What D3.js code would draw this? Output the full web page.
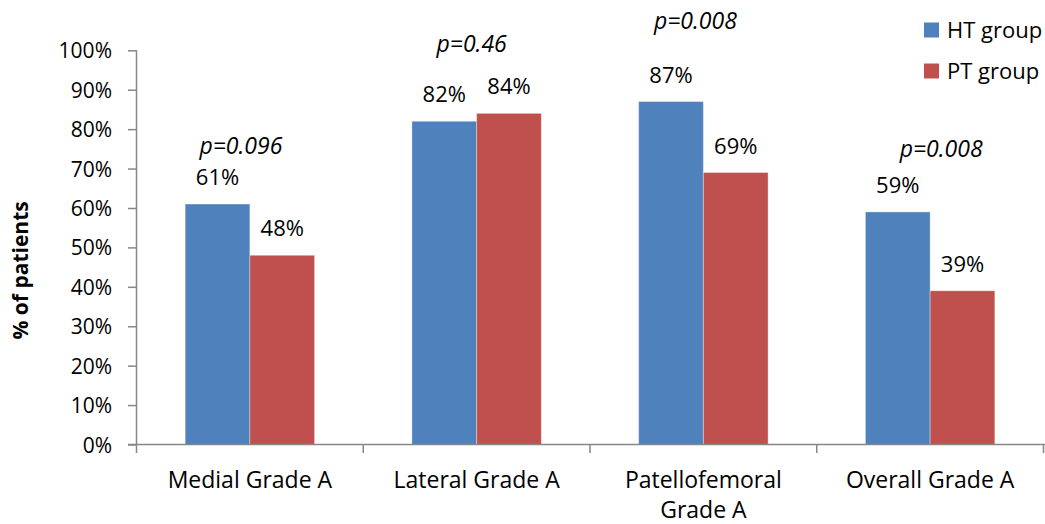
<!DOCTYPE html>
<html>
<head>
<meta charset="utf-8">
<script src="https://cdn.jsdelivr.net/npm/d3@7"></script>
<style>
  html, body { margin: 0; padding: 0; background: #fff; }
  svg { display: block; font-family: "Open Sans", "Noto Sans", sans-serif; }
</style>
</head>
<body>
<svg id="chart" width="1045" height="524"></svg>
<script>
// Share of patients reaching grade A, by compartment and treatment group
const categories = ["Medial Grade A", "Lateral Grade A", "Patellofemoral Grade A", "Overall Grade A"];
const seriesNames = ["HT group", "PT group"];
const htValues = [61, 82, 87, 59];
const ptValues = [48, 84, 69, 39];
const pValues = ["p=0.096", "p=0.46", "p=0.008", "p=0.008"];
const yTicks = [0, 10, 20, 30, 40, 50, 60, 70, 80, 90, 100];
const seriesColors = ["#4F81BD", "#C0504D"];

const svg = d3.select("#chart");
const plot = { left: 136.5, right: 1043.5, top: 50.3, bottom: 444.5 };
const axisColor = "#868686";

const y = d3.scaleLinear().domain([0, 100]).range([plot.bottom, plot.top]);
const x0 = d3.scaleBand().domain(categories).range([plot.left, plot.right]).padding(0);
const x1 = d3.scaleBand().domain(seriesNames).range([0, x0.bandwidth()])
  .paddingInner(0).paddingOuter(0.752);

const rows = categories.map((c, i) => ({
  category: c,
  values: [
    { series: seriesNames[0], value: htValues[i], color: seriesColors[0] },
    { series: seriesNames[1], value: ptValues[i], color: seriesColors[1] }
  ]
}));

// Y axis
const yAxis = d3.axisLeft(y).tickValues(yTicks).tickSize(8.5).tickPadding(16)
  .tickFormat(d => d + "%");
const gy = svg.append("g").attr("transform", `translate(${plot.left},0)`).call(yAxis);
gy.select(".domain").attr("stroke", axisColor).attr("stroke-width", 1.5)
  .attr("d", `M0,${plot.top}V${plot.bottom}`);
gy.selectAll(".tick line").attr("stroke", axisColor).attr("stroke-width", 1.5);
gy.selectAll(".tick text").attr("fill", "#000").style("font-size", "21px")
  .style("font-family", "'Open Sans', sans-serif").attr("dy", "0.36em");

// Y axis title
svg.append("text")
  .attr("transform", `translate(28,${(plot.top + plot.bottom) / 2 + 23}) rotate(-90)`)
  .attr("text-anchor", "middle")
  .style("font-size", "21px").style("font-weight", "bold")
  .text("% of patients");

// Bars
const groups = svg.append("g").selectAll("g").data(rows).join("g")
  .attr("transform", d => `translate(${x0(d.category)},0)`);

groups.selectAll("rect").data(d => d.values).join("rect")
  .attr("x", d => x1(d.series))
  .attr("y", d => y(d.value))
  .attr("width", x1.bandwidth())
  .attr("height", d => y(0) - y(d.value))
  .attr("fill", d => d.color)
  .attr("stroke", "rgba(255,255,255,0.35)")
  .attr("stroke-width", 1);

// Value labels
groups.selectAll("text.val").data(d => d.values).join("text")
  .attr("class", "val")
  .attr("x", d => x1(d.series) + x1.bandwidth() / 2)
  .attr("y", d => y(d.value) - 19)
  .attr("text-anchor", "middle")
  .style("font-size", "22px")
  .text(d => d.value + "%");

// X axis with category boundary ticks
const gx = svg.append("g");
gx.append("line")
  .attr("x1", plot.left - 8.5).attr("x2", plot.right + 1.5)
  .attr("y1", plot.bottom).attr("y2", plot.bottom)
  .attr("stroke", axisColor).attr("stroke-width", 1.5);
const boundaries = categories.map(c => x0(c)).concat([x0(categories[categories.length - 1]) + x0.bandwidth()]);
gx.selectAll("line.bt").data(boundaries).join("line")
  .attr("class", "bt")
  .attr("x1", d => d).attr("x2", d => d)
  .attr("y1", plot.bottom).attr("y2", plot.bottom + 8.5)
  .attr("stroke", axisColor).attr("stroke-width", 1.5);

// Category labels, wrapped to the band width
const catLabels = gx.selectAll("text.cat").data(categories).join("text")
  .attr("class", "cat")
  .attr("text-anchor", "middle")
  .attr("x", d => x0(d) + x0.bandwidth() / 2)
  .attr("y", plot.bottom + 43)
  .style("font-size", "23px");
catLabels.each(function (d) {
  const t = d3.select(this);
  const maxW = x0.bandwidth() - 30;
  const words = d.split(" ");
  let line = [], lines = [];
  const probe = t.append("tspan");
  words.forEach(w => {
    const test = line.concat([w]).join(" ");
    probe.text(test);
    if (probe.node().getComputedTextLength() > maxW && line.length) {
      lines.push(line.join(" "));
      line = [w];
    } else {
      line.push(w);
    }
  });
  lines.push(line.join(" "));
  probe.remove();
  lines.forEach((l, i) => {
    t.append("tspan").attr("x", x0(d) + x0.bandwidth() / 2)
      .attr("dy", i === 0 ? 0 : 30).text(l);
  });
});

// Significance notes: anchored in axis units above each pair, with a small horizontal shift
const pNoteAnchor = [
  { level: 73.8, dx: -9 },
  { level: 99.5, dx: -5 },
  { level: 105.4, dx: -8 },
  { level: 73.0, dx: 11 }
];
svg.append("g").selectAll("text").data(pValues).join("text")
  .attr("x", (d, i) => x0(categories[i]) + x0.bandwidth() / 2 + pNoteAnchor[i].dx)
  .attr("y", (d, i) => y(pNoteAnchor[i].level))
  .attr("text-anchor", "middle")
  .style("font-size", "23px").style("font-style", "italic")
  .text(d => d);

// Legend
const legend = svg.append("g").attr("transform", "translate(924,22.5)");
const li = legend.selectAll("g").data(seriesNames).join("g")
  .attr("transform", (d, i) => `translate(0,${i * 41})`);
li.append("rect").attr("width", 15).attr("height", 15)
  .attr("fill", (d, i) => seriesColors[i]);
li.append("text").attr("x", 23).attr("y", 15)
  .style("font-size", "22px").text(d => d);
</script>
</body>
</html>
